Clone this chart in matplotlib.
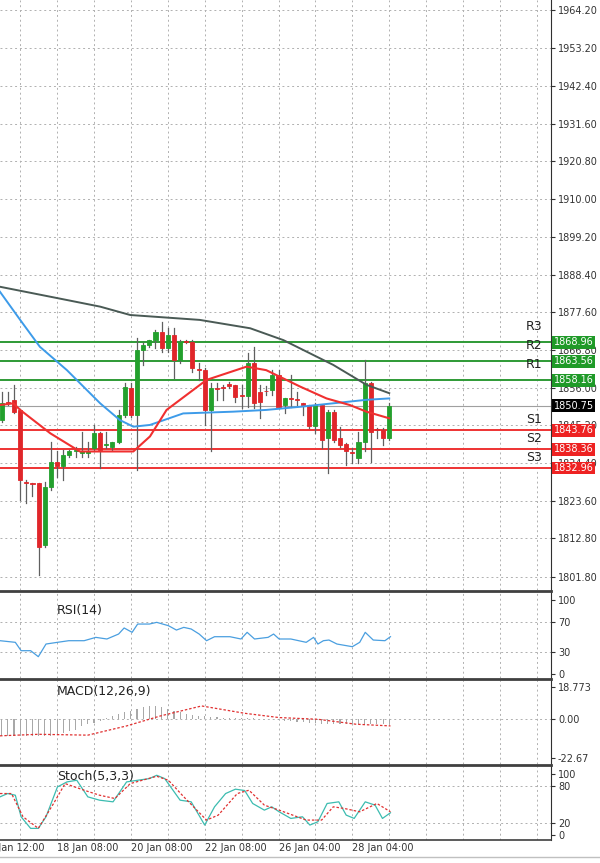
import matplotlib
matplotlib.use("Agg")
import matplotlib.pyplot as plt
from matplotlib.patches import Rectangle

# ---------------- data ----------------
opens  = [1846.7,1852.0,1852.5,1849.6,1829.0,1828.6,1828.6,1810.9,1827.6,1834.8,1833.4,1836.7,1837.7,1837.4,1837.4,1838.6,
          1842.9,1839.6,1839.1,1840.5,1848.2,1855.8,1848.2,1866.8,1868.2,1869.6,1872.0,1867.3,1871.1,1863.9,1869.2,1869.2,
          1861.2,1861.0,1849.6,1855.8,1856.1,1857.0,1856.8,1853.9,1853.6,1863.0,1854.8,1855.1,1855.3,1859.6,1851.0,1852.9,
          1852.6,1851.5,1851.0,1845.0,1851.0,1841.5,1849.1,1841.5,1839.9,1837.4,1835.7,1840.5,1857.2,1843.9,1843.9,1841.5]
highs  = [1854.8,1854.8,1856.8,1850.0,1829.5,1828.8,1828.8,1829.0,1840.5,1837.7,1838.1,1838.1,1839.1,1843.4,1840.5,1845.3,
          1843.4,1843.4,1840.5,1849.6,1857.2,1857.2,1870.1,1868.7,1869.6,1872.5,1874.9,1873.0,1873.0,1869.6,1869.6,1869.6,
          1863.0,1861.5,1857.2,1857.2,1856.8,1857.7,1856.8,1856.8,1865.8,1867.7,1856.8,1856.5,1861.0,1861.0,1852.9,1859.6,
          1854.8,1851.5,1851.0,1851.5,1851.0,1849.6,1849.6,1844.8,1840.0,1838.6,1843.4,1863.9,1857.7,1844.3,1844.3,1851.5]
lows   = [1846.2,1851.0,1848.6,1823.8,1822.9,1824.8,1802.3,1810.4,1826.7,1830.5,1829.5,1836.2,1836.2,1836.2,1836.2,1837.7,
          1832.9,1838.6,1838.1,1840.0,1847.7,1847.7,1832.4,1862.5,1867.5,1867.3,1866.3,1866.3,1858.7,1863.0,1868.7,1860.6,
          1858.2,1845.3,1837.7,1852.5,1852.5,1855.8,1852.0,1850.1,1850.5,1850.1,1847.2,1853.9,1853.9,1850.1,1848.6,1850.5,
          1851.0,1848.2,1844.3,1842.9,1838.6,1831.4,1840.5,1839.1,1833.8,1834.3,1834.3,1837.7,1834.8,1841.5,1839.6,1841.0]
closes = [1851.5,1851.5,1849.1,1829.5,1828.8,1828.4,1810.4,1827.6,1834.8,1833.5,1836.7,1837.7,1838.1,1837.7,1837.7,1842.9,
          1838.1,1839.6,1840.5,1848.2,1856.3,1848.2,1866.8,1868.2,1869.6,1872.0,1867.3,1871.1,1863.9,1869.2,1869.0,1861.5,
          1861.0,1849.6,1855.8,1855.6,1855.9,1856.5,1853.4,1853.7,1863.0,1851.5,1852.0,1854.9,1859.6,1850.5,1852.9,1852.8,
          1852.5,1851.0,1845.0,1851.0,1841.0,1849.1,1841.0,1839.6,1837.7,1837.2,1840.5,1857.2,1843.4,1843.8,1841.5,1850.75]

ma_slow_x = [-0.3, 10.6, 16.0, 20.9, 32.2, 40.4, 45.8, 53.9, 59.3, 63.0]
ma_slow_y = [1884.9, 1881.1, 1879.2, 1876.8, 1875.4, 1873.0, 1869.6, 1862.5, 1856.8, 1854.4]
ma_mid_x = [-0.3, 3.0, 6.2, 10.6, 16.0, 19.2, 21.4, 24.1, 29.5, 37.6, 43.0, 48.5, 53.9, 59.3, 63.0]
ma_mid_y = [1883.5, 1875.4, 1867.7, 1861.0, 1851.5, 1846.7, 1844.8, 1845.3, 1848.6, 1849.1, 1849.6, 1850.5, 1851.5, 1852.5, 1852.9]
ma_fast_x = [-0.3, 1.9, 3.0, 7.9, 12.7, 16.0, 21.4, 24.1, 26.8, 33.3, 39.8, 43.0, 48.5, 52.8, 56.6, 59.3, 63.0]
ma_fast_y = [1851.0, 1851.5, 1849.6, 1842.9, 1837.7, 1837.7, 1837.7, 1842.0, 1849.6, 1858.2,1862.0, 1861.0, 1856.3, 1852.9, 1851.0, 1849.1, 1847.2]

res_levels = [1868.96, 1863.56, 1858.16]
res_names = ["R3", "R2", "R1"]
sup_levels = [1843.76, 1838.36, 1832.96]
sup_names = ["S1", "S2", "S3"]
last_price = 1850.75

price_ticks = [1964.20,1953.20,1942.40,1931.60,1920.80,1910.00,1899.20,1888.40,1877.60,1866.80,1856.00,1845.20,1834.40,1823.60,1812.80,1801.80]

rsi_x = [-0.28,2.21,3.15,4.7,5.95,7.2,9.06,10.9,13.4,15.3,17.1,19.0,19.9,21.2,22.1,24.0,25.2,27.1,28.4,29.6,30.8,32.1,33.3,34.6,
         37.1,38.9,39.9,41.1,43.3,44.2,45.1,47.0,49.5,50.7,51.4,52.3,53.2,54.5,57.0,58.2,59.1,60.4,62.3,63.2]
rsi_y = [45.0,42.8,31.5,31.5,23.4,40.5,42.8,45.0,45.0,49.5,47.3,54.0,62.2,56.3,67.5,67.5,69.8,65.3,59.4,63.0,60.8,54.0,45.0,50.4,
         50.4,47.3,56.3,47.3,49.5,54.0,47.3,47.3,42.8,49.5,40.5,45.0,45.9,40.5,36.9,42.8,56.3,45.9,45.0,50.4]

macd_hist = [-10,-10,-10,-10,-10,-10,-10,-10,-10,-9,-8,-7,-6,-4,-3,-2,-1,1,2,3,4,5,6,7,8,8,7,6,5,4,3,
             2.5,2,2,1.5,1.5,1,1,1,0.5,0.5,0.5,0,0,0,-0.5,-1,-1,-1.5,-1.5,-2,-2,-2.5,-3,-3,-3,-3,-3,-3,-3,-3,-3,-3,-3]
macd_sig_x = [-0.28, 5.95, 14.0, 20.3, 25.8, 32.5, 39.5, 45.1, 51.4, 57.6, 63.2]
macd_sig_y = [-9.7, -8.8, -9.3, -3.9, 1.95, 7.8, 3.5, 1.0, 0.0, -2.9, -3.9]

stk_x = [-0.28,0.97,2.21,3.15,4.7,5.95,7.2,9.06,10.6,12.2,14.0,15.9,18.1,20.3,22.1,24.0,25.2,26.5,29.0,30.8,33.0,34.6,36.4,38.0,
         39.5,40.8,42.7,43.9,45.1,47.0,48.9,50.1,51.4,52.9,54.8,56.0,57.3,59.1,60.7,61.9,63.2]
stk_y = [62.1,67.5,64.8,29.7,10.8,10.8,29.7,78.3,86.4,89.1,62.1,56.7,54.0,86.4,89.1,91.8,97.2,91.8,56.7,54.0,16.2,45.9,67.5,74.6,
         72.4,51.3,40.5,45.9,37.8,27.0,29.7,16.2,21.6,51.3,54.0,32.4,27.0,54.0,48.6,27.0,36.2]
std_x = [-0.28,1.59,3.46,5.95,8.43,10.3,13.4,15.9,18.4,20.9,25.2,27.1,29.6,33.3,35.2,38.3,40.2,42.7,45.1,49.5,52.0,53.9,55.7,58.2,61.0,63.2]
std_y = [67.5,67.5,29.7,10.8,51.3,83.7,72.9,64.8,59.4,83.7,95.6,89.1,62.1,24.3,32.4,67.5,72.9,48.6,40.5,24.3,24.3,45.9,43.2,37.8,51.3,37.8]

date_pos = [-3, 9, 21, 33, 45, 57]
date_labels = ["16 Jan 12:00", "18 Jan 08:00", "20 Jan 08:00", "22 Jan 08:00", "26 Jan 04:00", "28 Jan 04:00"]

# ---------------- figure ----------------
W, H = 600, 863
fig = plt.figure(figsize=(6, 8.63), dpi=100)
fig.patch.set_facecolor("white")
XL = (-0.28, 89.3)
right = 551 / W

def mk(top_px, bot_px):
    return fig.add_axes([0, 1 - bot_px / H, right, (bot_px - top_px) / H])

ax = mk(0, 590)
ax_rsi = mk(592, 678)
ax_macd = mk(680, 764)
ax_sto = mk(766, 840)

grid_x = [3 + 6 * k for k in range(15)]
GREEN = "#23a02d"
RED = "#e0262a"
gridkw = dict(color="#b0b0b0", lw=0.7, ls=(0, (2, 3)), zorder=0)

for a in (ax, ax_rsi, ax_macd, ax_sto):
    a.set_xlim(*XL)
    a.set_facecolor("white")
    for s in ("top", "left", "bottom"):
        a.spines[s].set_visible(False)
    a.spines["right"].set_color("#303030")
    a.yaxis.tick_right()
    a.tick_params(axis="y", labelsize=7, length=3, pad=2, colors="#333333")
    a.set_xticks([])
    for gx in grid_x:
        a.axvline(gx, **gridkw)

# main
ax.set_ylim(1798.0, 1967.07)
ax.set_yticks(price_ticks)
ax.set_yticklabels([f"{v:.2f}" for v in price_ticks])
for v in price_ticks:
    ax.axhline(v, **gridkw)

for i, (o, h, l, c) in enumerate(zip(opens, highs, lows, closes)):
    col = GREEN if c >= o else RED
    ax.plot([i, i], [l, h], color="#606060", lw=0.9, zorder=3)
    b = min(o, c)
    hgt = max(abs(c - o), 0.25)
    ax.add_patch(Rectangle((i - 0.33, b), 0.66, hgt, facecolor=col, edgecolor=col, lw=0.6, zorder=4))

ax.plot(ma_slow_x, ma_slow_y, color="#4a5a55", lw=1.4, zorder=5)
ax.plot(ma_mid_x, ma_mid_y, color="#3d9be9", lw=1.4, zorder=5)
ax.plot(ma_fast_x, ma_fast_y, color="#f03030", lw=1.5, zorder=5)

ax.axhline(last_price, color="#a0a0a0", lw=0.8, zorder=2)
for lv, nm in zip(res_levels, res_names):
    ax.axhline(lv, color="#2e9a35", lw=1.4, zorder=2)
    ax.text(1.005, lv, f"{lv:.2f}", transform=ax.get_yaxis_transform(), fontsize=7, color="white",
            va="center", ha="left", clip_on=False, zorder=10,
            bbox=dict(boxstyle="square,pad=0.15", fc="#1f9a28", ec="none"))
    ax.text(86.5, lv + 2.6, nm, fontsize=9, color="#222222", ha="center", va="bottom", zorder=6)
for lv, nm in zip(sup_levels, sup_names):
    ax.axhline(lv, color="#ee3333", lw=1.4, zorder=2)
    ax.text(1.005, lv, f"{lv:.2f}", transform=ax.get_yaxis_transform(), fontsize=7, color="white",
            va="center", ha="left", clip_on=False, zorder=10,
            bbox=dict(boxstyle="square,pad=0.15", fc="#ee2222", ec="none"))
    ax.text(86.5, lv + 1.2, nm, fontsize=9, color="#222222", ha="center", va="bottom", zorder=6)
ax.text(1.005, last_price, f"{last_price:.2f}", transform=ax.get_yaxis_transform(), fontsize=7, color="white",
        va="center", ha="left", clip_on=False, zorder=10,
        bbox=dict(boxstyle="square,pad=0.15", fc="#000000", ec="none"))

# RSI
ax_rsi.set_ylim(-5.4, 110.8)
ax_rsi.set_yticks([100, 70, 30, 0])
for v in (70, 30):
    ax_rsi.axhline(v, **gridkw)
ax_rsi.plot(rsi_x, rsi_y, color="#4a9fe0", lw=0.9)
ax_rsi.text(9, 95, "RSI(14)", fontsize=9, color="#222222", va="top")

# MACD
ax_macd.set_ylim(-26.2, 23.0)
ax_macd.set_yticks([18.773, 0.0, -22.67])
ax_macd.set_yticklabels(["18.773", "0.00", "-22.67"])
ax_macd.axhline(0, **gridkw)
ax_macd.bar(range(len(macd_hist)), macd_hist, width=0.18, color="#a8a8a8", zorder=2)
ax_macd.plot(macd_sig_x, macd_sig_y, color="#e03030", lw=0.9, ls=(0, (2, 1.5)), zorder=3)
ax_macd.text(9, 20, "MACD(12,26,9)", fontsize=9, color="#222222", va="top")

# Stoch
ax_sto.set_ylim(-8.1, 112.3)
ax_sto.set_yticks([100, 80, 20, 0])
for v in (80, 20):
    ax_sto.axhline(v, **gridkw)
ax_sto.plot(stk_x, stk_y, color="#3cbcb0", lw=0.9, zorder=3)
ax_sto.plot(std_x, std_y, color="#e03030", lw=0.9, ls=(0, (2, 1.5)), zorder=3)
ax_sto.text(9, 106, "Stoch(5,3,3)", fontsize=9, color="#222222", va="top")

# separators
for ypx, lw in ((591, 2.0), (679, 2.0), (765, 2.0), (840, 1.2)):
    fig.add_artist(plt.Line2D([0, right], [1 - ypx / H, 1 - ypx / H], color="#404040", lw=lw))

# date labels
for p, lab in zip(date_pos, date_labels):
    ax_sto.text(p, -0.04, lab, transform=ax_sto.get_xaxis_transform(), fontsize=7, color="#333333",
                ha="left", va="top", clip_on=False)
fig.add_artist(plt.Line2D([0, 1], [1 - 857 / H, 1 - 857 / H], color="#c0c0c0", lw=1))

fig.savefig("out.png", dpi=100, facecolor="white")
